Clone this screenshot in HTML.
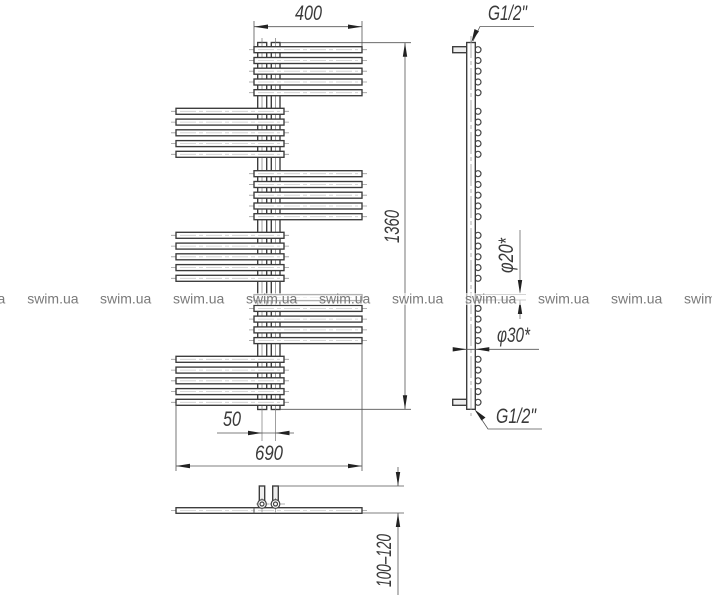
<!DOCTYPE html>
<html><head><meta charset="utf-8"><style>
html,body{margin:0;padding:0;background:#fff}
svg{display:block}
.t{font-family:"Liberation Sans",sans-serif;font-style:italic;font-size:21px;fill:#3a3a3a}
.w{font-family:"Liberation Sans",sans-serif;font-size:14px;fill:#7a7a7a}
.b{fill:#fff;stroke:#3a3a3a;stroke-width:1.35}
.c{stroke:#999;stroke-width:.8;fill:none}
.d{stroke:#555;stroke-width:.8;fill:none}
.o{stroke:#444;stroke-width:1.2;fill:#fff}
</style></head><body>
<svg width="712" height="600" viewBox="0 0 712 600" xmlns="http://www.w3.org/2000/svg">
<defs>
<g id="bar">
<path class="c" d="M-5 0H113" stroke-dasharray="14 2 3 2"/>
<rect class="b" x="0" y="-3" width="108" height="6"/>
<path d="M4 0H104" stroke="#ccc" stroke-width=".8" stroke-dasharray="16 3 4 3"/>
</g>
<g id="rg"><use href="#bar" y="0"/><use href="#bar" y="10.8"/><use href="#bar" y="21.5"/><use href="#bar" y="32.3"/><use href="#bar" y="43"/></g>
<g id="cg"><circle class="o" cx="478" cy="0" r="3"/><circle class="o" cx="478" cy="10.8" r="3"/><circle class="o" cx="478" cy="21.5" r="3"/><circle class="o" cx="478" cy="32.3" r="3"/><circle class="o" cx="478" cy="43" r="3"/></g>
</defs>

<!-- tubes -->
<rect class="b" x="257.7" y="42.5" width="9" height="367"/>
<rect class="b" x="271.3" y="42.5" width="8.7" height="367"/>
<path d="M262 38V441M275.5 38V441" stroke="#777" stroke-width=".7" fill="none"/>

<!-- bars -->
<use href="#rg" x="254" y="49.7"/>
<use href="#rg" x="176" y="111.3"/>
<use href="#rg" x="254" y="173.7"/>
<use href="#rg" x="176" y="235.3"/>
<use href="#rg" x="254" y="297.6"/>
<use href="#rg" x="176" y="359.3"/>

<!-- dims front -->
<path class="d" d="M254 21V46M362 21V46M254 26.7H362"/>
<path d="M254 26.7l14-2.2v4.4zM362 26.7l-14-2.2v4.4z" fill="#222"/>
<text class="t" x="295" y="20" textLength="27" lengthAdjust="spacingAndGlyphs">400</text>

<path class="d" d="M280 42.7H411M280 409.3H411M405 42.7V409.3"/>
<path d="M405 42.7l-2.2 14h4.4zM405 409.3l-2.2-14h4.4z" fill="#222"/>
<text class="t" transform="translate(399,243) rotate(-90)" textLength="33" lengthAdjust="spacingAndGlyphs">1360</text>

<path class="d" d="M217 433H294"/>
<path d="M262 433l-14-2.2v4.4zM275.5 433l14-2.2v4.4z" fill="#222"/>
<text class="t" x="223" y="426" textLength="18" lengthAdjust="spacingAndGlyphs">50</text>

<path class="d" d="M176 403V471M362 342V471M176 466H362"/>
<path d="M176 466l14-2.2v4.4zM362 466l-14-2.2v4.4z" fill="#222"/>
<text class="t" x="255" y="460" textLength="28" lengthAdjust="spacingAndGlyphs">690</text>

<!-- side view -->
<rect class="b" x="452.7" y="46.7" width="14" height="6" style="fill:#eee"/>
<rect class="b" x="452.7" y="399.3" width="14" height="6" style="fill:#eee"/>
<use href="#cg" y="49.7"/><use href="#cg" y="111.3"/><use href="#cg" y="173.7"/><use href="#cg" y="235.3"/><use href="#cg" y="297.6"/><use href="#cg" y="359.3"/>
<rect class="b" x="466.7" y="42.5" width="8.6" height="366.8"/>
<path class="c" d="M471 36V416" stroke-dasharray="22 3 4 3"/>

<path class="d" d="M473 41L480 26.5H534"/>
<path d="M471.5 42l3-13 4.5 2.2z" fill="#222"/>
<text class="t" x="488" y="20" textLength="39" lengthAdjust="spacingAndGlyphs">G1/2"</text>

<path class="d" d="M476 411L488 429H542"/>
<path d="M474.5 409.5l11 8-4 3z" fill="#222"/>
<text class="t" x="496" y="423" textLength="40" lengthAdjust="spacingAndGlyphs">G1/2"</text>

<path class="d" d="M520 230V291.5M520 300V319M478 294.3H526M478 300H526" style="stroke-width:.7"/>
<path d="M520 294l-2.2-14h4.4zM520 300l-2.2 14h4.4z" fill="#222"/>
<text class="t" transform="translate(513,273) rotate(-90)" textLength="35" lengthAdjust="spacingAndGlyphs">φ20*</text>

<path class="d" d="M453 349.3H539"/>
<path d="M466.7 349.3l-14-2.2v4.4zM475.3 349.3l14-2.2v4.4z" fill="#222"/>
<text class="t" x="497" y="342" textLength="33" lengthAdjust="spacingAndGlyphs">φ30*</text>

<!-- bottom view -->
<path class="c" d="M171 510.5H367" stroke-dasharray="16 3 4 3"/>
<rect class="b" x="176" y="507.7" width="186" height="5.6"/>
<path d="M180 510.5H358" stroke="#ccc" stroke-width=".8" stroke-dasharray="16 3 4 3"/>
<path class="d" d="M254 507.7V513.3" style="stroke-width:1"/>
<rect class="b" x="259.3" y="486" width="5.4" height="14.5" style="fill:#eee"/>
<rect class="b" x="272.7" y="486" width="5.6" height="14.5" style="fill:#eee"/>
<path class="c" d="M256 504H269M269.5 504H285M262 498V513M275.5 498V513"/>
<circle class="o" cx="262" cy="504" r="4.3"/><circle class="o" cx="262" cy="504" r="2"/>
<circle class="o" cx="275.5" cy="504" r="4.3"/><circle class="o" cx="275.5" cy="504" r="2"/>
<path class="d" d="M278 486H404M362 513H404M398 467V486M398 513V595"/>
<path d="M398 486l-2.2-14h4.4zM398 513l-2.2 14h4.4z" fill="#222"/>
<text class="t" transform="translate(391,587) rotate(-90)" textLength="53" lengthAdjust="spacingAndGlyphs">100–120</text>

<!-- watermark fade -->
<rect x="0" y="293" width="712" height="12" fill="#fff" opacity=".6"/>
<g class="w">
<text class="w" x="-46" y="303.5">swim.ua</text>
<text class="w" x="27.2" y="303.5">swim.ua</text>
<text class="w" x="100" y="303.5">swim.ua</text>
<text class="w" x="173" y="303.5">swim.ua</text>
<text class="w" x="246" y="303.5">swim.ua</text>
<text class="w" x="319" y="303.5">swim.ua</text>
<text class="w" x="392" y="303.5">swim.ua</text>
<text class="w" x="465" y="303.5">swim.ua</text>
<text class="w" x="538" y="303.5">swim.ua</text>
<text class="w" x="611" y="303.5">swim.ua</text>
<text class="w" x="684" y="303.5">swim.ua</text>
</g>
</svg>
</body></html>
